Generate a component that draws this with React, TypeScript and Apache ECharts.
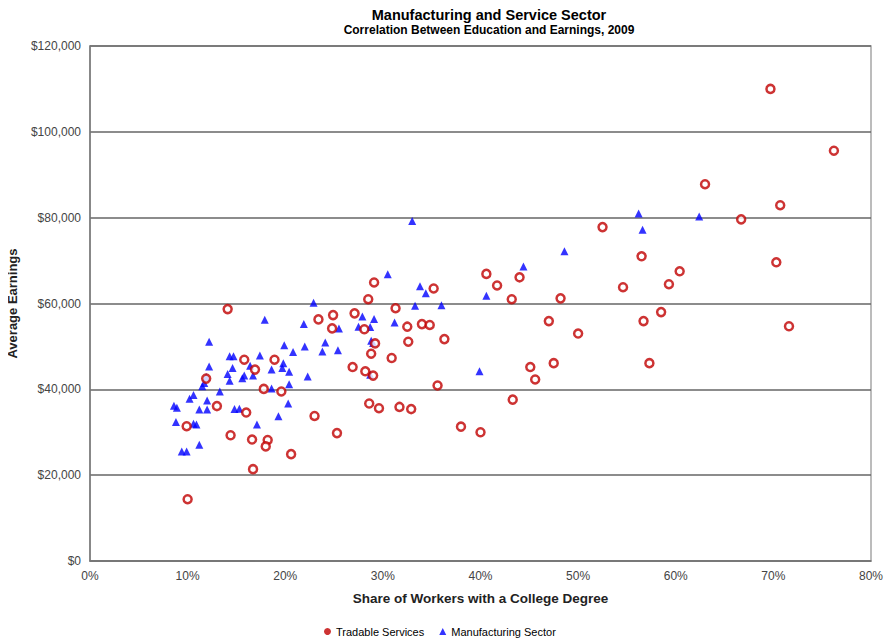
import React, { useEffect, useRef } from "react";
import * as echarts from "echarts";

const titleText = "Manufacturing and Service Sector";
const subtitleText = "Correlation Between Education and Earnings, 2009";
const xAxisName = "Share of Workers with a College Degree";
const yAxisName = "Average Earnings";
const seriesNames = ["Tradable Services", "Manufacturing Sector"];

// [share of workers with college degree (%), average earnings ($)]
const tradableServices: [number, number][] = [
  [10.0, 14400], [9.9, 31400], [14.1, 58700], [15.8, 46900], [16.9, 44600],
  [18.9, 46900], [11.9, 42500], [17.8, 40100], [19.6, 39500], [13.0, 36100],
  [16.0, 34600], [14.4, 29300], [16.6, 28300], [18.2, 28200], [18.0, 26700],
  [20.6, 24900], [16.7, 21400], [29.1, 64900], [28.5, 61000], [31.3, 58900],
  [24.9, 57300], [23.4, 56300], [24.8, 54200], [27.1, 57700], [28.1, 54000],
  [32.5, 54600], [34.0, 55200], [34.8, 55000], [29.2, 50700], [32.6, 51100],
  [28.8, 48300], [30.9, 47300], [26.9, 45200], [28.2, 44200], [29.0, 43200],
  [28.6, 36700], [29.6, 35600], [31.7, 35900], [32.9, 35400], [23.0, 33800],
  [25.3, 29800], [35.2, 63500], [36.3, 51700], [35.6, 40900], [40.6, 66900],
  [41.7, 64200], [44.0, 66100], [43.2, 61000], [48.2, 61200], [47.0, 55900],
  [50.0, 53000], [45.1, 45200], [47.5, 46100], [45.6, 42300], [43.3, 37600],
  [38.0, 31300], [40.0, 30000], [52.5, 77800], [56.5, 71000], [54.6, 63800],
  [59.3, 64500], [60.4, 67500], [56.7, 55900], [58.5, 58000], [57.3, 46100],
  [69.7, 110000], [76.2, 95600], [63.0, 87800], [70.7, 82900], [66.7, 79600],
  [70.3, 69600], [71.6, 54700],
];

const manufacturing: [number, number][] = [
  [17.9, 56200], [21.9, 55200], [12.2, 51100], [19.9, 50300], [20.8, 48700],
  [22.0, 50000], [14.3, 47700], [14.7, 47700], [17.4, 47900], [12.2, 45300],
  [14.6, 45000], [16.4, 45500], [18.6, 44600], [19.8, 46100], [19.7, 45000],
  [20.4, 44100], [14.1, 43600], [15.8, 43200], [15.6, 42600], [16.7, 43200],
  [11.9, 42900], [14.3, 42000], [11.7, 41500], [11.5, 40700], [13.3, 39500],
  [18.6, 40200], [20.4, 41200], [22.3, 43000], [10.6, 38700], [10.2, 37800],
  [12.0, 37400], [20.3, 36700], [8.6, 36200], [8.9, 35700], [11.2, 35300],
  [12.0, 35300], [14.8, 35400], [15.3, 35500], [19.3, 33700], [8.8, 32400],
  [10.6, 32000], [10.9, 31800], [17.1, 31800], [11.2, 27100], [9.4, 25500],
  [9.9, 25500], [30.5, 66800], [33.8, 64000], [34.4, 62400], [33.3, 59500],
  [22.9, 60200], [25.5, 54200], [27.9, 57000], [29.1, 56400], [27.5, 54600],
  [28.7, 54500], [31.2, 55600], [28.8, 51300], [29.0, 50800], [24.1, 50900],
  [23.8, 48800], [25.4, 49100], [28.7, 43400], [33.0, 79200], [36.0, 59600],
  [40.6, 61800], [39.9, 44200], [44.4, 68600], [48.6, 72200], [56.2, 81000],
  [56.6, 77200], [62.4, 80300],
];

const FONT = "'Liberation Sans', Arial, sans-serif";

export default function App() {
  const ref = useRef<HTMLDivElement>(null);
  useEffect(() => {
    if (!ref.current) return;
    const chart = echarts.init(ref.current, null, { renderer: "svg" });
    chart.setOption({
      animation: false,
      backgroundColor: "#ffffff",
      title: {
        text: titleText,
        subtext: subtitleText,
        left: 484,
        textAlign: "center",
        top: -6,
        itemGap: 2,
        textStyle: { fontFamily: FONT, fontSize: 14.5, fontWeight: "bold", color: "#000" },
        subtextStyle: { fontFamily: FONT, fontSize: 12, fontWeight: "bold", color: "#000" },
      },
      legend: {
        top: 613,
        left: 319,
        itemWidth: 7,
        itemHeight: 7,
        itemGap: 15,
        textStyle: { fontFamily: FONT, fontSize: 11, color: "#000" },
        data: [
          { name: seriesNames[0], icon: "circle", itemStyle: { color: "#c00000", borderWidth: 0 } },
          { name: seriesNames[1], icon: "triangle", itemStyle: { color: "#0000ff" } },
        ],
      },
      grid: {
        left: 90,
        right: 23,
        top: 38,
        bottom: 81,
        containLabel: false,
        outerBoundsMode: "none",
        show: true,
        borderColor: "#a6a6a6",
        borderWidth: 1.5,
        backgroundColor: "#fff",
      },
      xAxis: {
        type: "value",
        min: 0,
        max: 80,
        interval: 10,
        name: xAxisName,
        nameLocation: "middle",
        nameGap: 30,
        nameTextStyle: { fontFamily: FONT, fontSize: 13.5, fontWeight: "bold", color: "#222" },
        axisLine: { show: true, lineStyle: { color: "#777", width: 1.5 } },
        axisTick: { show: false },
        splitLine: { show: false },
        axisLabel: {
          formatter: (v: number) => v + "%",
          fontFamily: FONT,
          fontSize: 12,
          color: "#444",
          margin: 9,
        },
      },
      yAxis: {
        type: "value",
        min: 0,
        max: 120000,
        interval: 20000,
        name: yAxisName,
        nameLocation: "middle",
        nameGap: 71,
        nameTextStyle: { fontFamily: FONT, fontSize: 13, fontWeight: "bold", color: "#222" },
        axisLine: { show: true, lineStyle: { color: "#777", width: 1.5 } },
        axisTick: { show: false },
        splitLine: { show: true, lineStyle: { color: "#666", width: 1.5 } },
        axisLabel: {
          formatter: (v: number) => "$" + v.toLocaleString("en-US"),
          fontFamily: FONT,
          fontSize: 12,
          color: "#444",
          margin: 9,
        },
      },
      series: [
        {
          name: seriesNames[0],
          type: "scatter",
          data: tradableServices,
          symbol: "circle",
          symbolSize: 8,
          itemStyle: { color: "#ffffff", borderColor: "#c00000", borderWidth: 2.5 },
          z: 3,
        },
        {
          name: seriesNames[1],
          type: "scatter",
          data: manufacturing,
          symbol: "triangle",
          symbolSize: 8,
          itemStyle: { color: "#0000ff" },
          z: 2,
        },
      ],
    });
    return () => chart.dispose();
  }, []);
  return <div ref={ref} style={{ width: 894, height: 634, marginLeft: -8 }} />;
}
